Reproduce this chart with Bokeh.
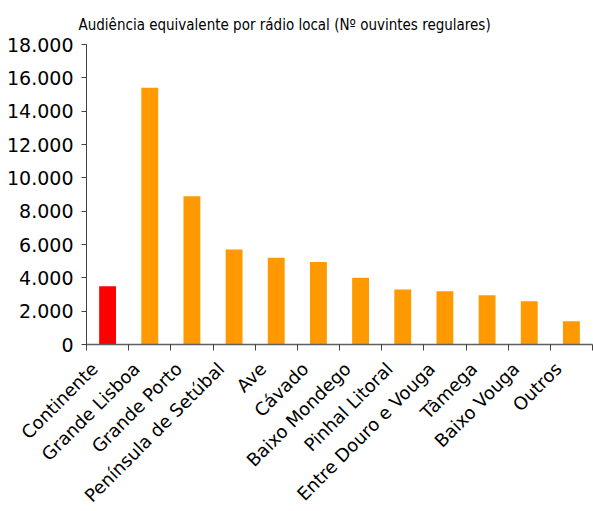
import math
from bokeh.plotting import figure
from bokeh.models import FixedTicker, Range1d, Title
from bokeh.embed import file_html
from bokeh.resources import INLINE

categories = ["Continente", "Grande Lisboa", "Grande Porto", "Península de Setúbal",
              "Ave", "Cávado", "Baixo Mondego", "Pinhal Litoral",
              "Entre Douro e Vouga", "Tâmega", "Baixo Vouga", "Outros"]
values = [3500, 15400, 8900, 5700, 5200, 4950, 4000, 3300, 3200, 2950, 2600, 1400]
colors = ["#FF0000"] + ["#FF9900"] * 11
y_ticks = [0, 2000, 4000, 6000, 8000, 10000, 12000, 14000, 16000, 18000]
title_text = "Audiência equivalente por rádio local (Nº ouvintes regulares)"

n = len(categories)
p = figure(frame_width=506, frame_height=300, output_backend="svg", toolbar_location=None,
           x_range=Range1d(0, n), y_range=Range1d(0, 18000),
           min_border_left=86, min_border_right=1, min_border_top=44, min_border_bottom=100)
p.outline_line_color = None
p.xgrid.visible = False
p.ygrid.visible = False

xs = [i + 0.5 for i in range(n)]
p.vbar(x=xs, top=values, width=0.4, fill_color=colors, line_color=None)

# x axis: labels near category centres, boundary ticks as minor ticks
label_pos = [i + 0.1875 for i in range(n)]
p.xaxis.ticker = FixedTicker(ticks=label_pos, minor_ticks=list(range(n + 1)))
p.xaxis.major_label_overrides = {pos: c for pos, c in zip(label_pos, categories)}
p.xaxis.major_tick_line_color = None
p.xaxis.minor_tick_in = 0
p.xaxis.minor_tick_out = 6
p.xaxis.minor_tick_line_color = "#404040"
p.xaxis.axis_line_color = "#606060"
p.xaxis.axis_line_width = 1.5
p.xaxis.major_label_orientation = math.pi / 4
p.xaxis.major_label_text_font = "DejaVu Sans"
p.xaxis.major_label_text_font_size = "18px"
p.xaxis.major_label_text_color = "black"
p.xaxis.major_label_standoff = 15

p.yaxis.ticker = FixedTicker(ticks=y_ticks, minor_ticks=[])
p.yaxis.major_label_overrides = {t: f"{t:,}".replace(",", ".") for t in y_ticks}
p.yaxis.major_tick_in = 0
p.yaxis.major_tick_out = 5
p.yaxis.major_tick_line_color = "#404040"
p.yaxis.axis_line_color = "#404040"
p.yaxis.major_label_text_font = "DejaVu Sans"
p.yaxis.major_label_text_font_size = "19px"
p.yaxis.major_label_text_color = "black"
p.yaxis.major_label_standoff = 8

title = Title(text=title_text, align="left", offset=-8, standoff=22,
              text_font="Liberation Sans Narrow, DejaVu Sans Condensed, sans-serif",
              text_font_size="15px", text_color="black", text_font_style="normal")
p.add_layout(title, "above")

open("out.html", "w").write(file_html(p, INLINE))
